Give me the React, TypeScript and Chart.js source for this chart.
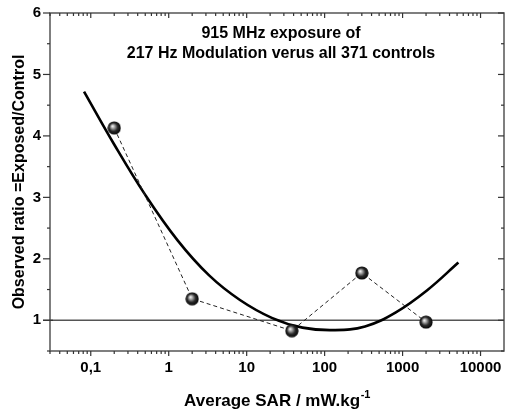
import { useEffect, useRef } from "react";
import { Chart, registerables } from "chart.js";
Chart.register(...registerables);

// Observed data points (SAR in mW/kg, ratio exposed/control)
const observedSAR = [0.2, 2, 38, 300, 2000];
const observedRatio = [4.13, 1.35, 0.83, 1.77, 0.97];

// Fitted curve
const fitSAR = [0.082, 0.2, 0.5, 1.3, 3.3, 8.2, 21, 52, 130, 330, 820, 2070, 5200];
const fitRatio = [4.72, 3.86, 3.04, 2.3, 1.73, 1.33, 1.04, 0.88, 0.84, 0.9, 1.13, 1.49, 1.94];

const referenceRatio = 1;

const xTickValues = [0.1, 1, 10, 100, 1000, 10000];
const xTickLabels = ["0,1", "1", "10", "100", "1000", "10000"];
const yTickValues = [1, 2, 3, 4, 5, 6];
const yTickLabels = ["1", "2", "3", "4", "5", "6"];
const yMinorValues = [0.5, 1.5, 2.5, 3.5, 4.5, 5.5];

const titleLines = ["915 MHz exposure of", "217 Hz Modulation verus all 371 controls"];
const xTitleMain = "Average SAR / mW.kg";
const xTitleSup = "-1";
const yTitle = "Observed ratio =Exposed/Control";

const X_MIN = 0.03;
const X_MAX = 20000;
const FONT = "'Liberation Sans', Arial, sans-serif";

function makeSphere(): HTMLCanvasElement {
  const c = document.createElement("canvas");
  const s = 14;
  c.width = s;
  c.height = s;
  const g = c.getContext("2d")!;
  const grad = g.createRadialGradient(5.2, 5.2, 0.3, 7, 7, 7);
  grad.addColorStop(0, "#f4f4f4");
  grad.addColorStop(0.25, "#a0a0a0");
  grad.addColorStop(0.58, "#2a2a2a");
  grad.addColorStop(1, "#000000");
  g.fillStyle = grad;
  g.beginPath();
  g.arc(7, 7, 6.6, 0, Math.PI * 2);
  g.fill();
  return c;
}

function xMinorValues(): number[] {
  const out: number[] = [];
  for (let d = 0.01; d < X_MAX; d *= 10) {
    for (let m = 2; m <= 9; m++) {
      const v = +(d * m).toPrecision(3);
      if (v >= X_MIN && v <= X_MAX * 0.999) out.push(v);
    }
  }
  return out;
}

const decorPlugin = {
  id: "decor",
  beforeDatasetsDraw(chart: any) {
    const { ctx, chartArea: a, scales } = chart;
    const yy = scales.y.getPixelForValue(referenceRatio);
    ctx.save();
    ctx.strokeStyle = "#555555";
    ctx.lineWidth = 1.5;
    ctx.beginPath();
    ctx.moveTo(a.left, yy);
    ctx.lineTo(a.right, yy);
    ctx.stroke();
    ctx.restore();
  },
  afterDraw(chart: any) {
    const { ctx, chartArea: a, scales } = chart;
    const xs = scales.x;
    const ys = scales.y;
    ctx.save();
    ctx.strokeStyle = "#555555";
    ctx.lineWidth = 1.5;
    ctx.strokeRect(a.left, a.top, a.right - a.left, a.bottom - a.top);

    ctx.lineWidth = 1.2;
    ctx.strokeStyle = "#333333";
    const seg = (x1: number, y1: number, x2: number, y2: number) => {
      ctx.beginPath();
      ctx.moveTo(x1, y1);
      ctx.lineTo(x2, y2);
      ctx.stroke();
    };
    // x ticks: bottom outward, top inward
    xTickValues.forEach((v) => {
      const px = xs.getPixelForValue(v);
      seg(px, a.bottom, px, a.bottom + 5);
      seg(px, a.top, px, a.top + 5);
    });
    xMinorValues().forEach((v) => {
      const px = xs.getPixelForValue(v);
      seg(px, a.bottom, px, a.bottom + 3);
      seg(px, a.top, px, a.top + 3);
    });
    // y ticks: left outward, right inward
    yTickValues.forEach((v) => {
      const py = ys.getPixelForValue(v);
      seg(a.left - 7, py, a.left, py);
      seg(a.right - 6, py, a.right, py);
    });
    const y1 = ys.getPixelForValue(referenceRatio);
    seg(a.left - 7, y1, a.left + 3, y1);
    yMinorValues.forEach((v) => {
      const py = ys.getPixelForValue(v);
      seg(a.left - 3, py, a.left, py);
      seg(a.right - 3, py, a.right, py);
    });

    // chart title inside plot
    ctx.fillStyle = "#000";
    ctx.font = `bold 16px ${FONT}`;
    ctx.textAlign = "center";
    ctx.textBaseline = "alphabetic";
    const cx = (a.left + a.right) / 2 + 4;
    ctx.fillText(titleLines[0], cx, a.top + 25);
    ctx.fillText(titleLines[1], cx, a.top + 45);

    // x axis title with superscript
    ctx.font = `bold 17px ${FONT}`;
    const wMain = ctx.measureText(xTitleMain).width;
    ctx.font = `bold 11px ${FONT}`;
    const wSup = ctx.measureText(xTitleSup).width;
    const startX = (a.left + a.right) / 2 - (wMain + wSup) / 2;
    ctx.textAlign = "left";
    ctx.font = `bold 17px ${FONT}`;
    ctx.fillText(xTitleMain, startX, 406);
    ctx.font = `bold 11px ${FONT}`;
    ctx.fillText(xTitleSup, startX + wMain + 0.5, 398);

    // y axis title
    ctx.font = `bold 16px ${FONT}`;
    ctx.textAlign = "center";
    ctx.translate(24, (a.top + a.bottom) / 2);
    ctx.rotate(-Math.PI / 2);
    ctx.fillText(yTitle, 0, 0);
    ctx.restore();
  },
};

export default function App() {
  const ref = useRef<HTMLCanvasElement | null>(null);
  useEffect(() => {
    if (!ref.current) return;
    const sphere = makeSphere();
    const chart = new Chart(ref.current, {
      type: "line",
      data: {
        datasets: [
          {
            label: "Observed",
            data: observedSAR.map((x, i) => ({ x, y: observedRatio[i] })),
            borderColor: "#222222",
            borderWidth: 1,
            borderDash: [4, 3],
            pointStyle: sphere as any,
            pointRadius: 7,
            fill: false,
            tension: 0,
          },
          {
            label: "Fit",
            data: fitSAR.map((x, i) => ({ x, y: fitRatio[i] })),
            borderColor: "#000000",
            borderWidth: 2.6,
            pointRadius: 0,
            fill: false,
            tension: 0.4,
          },
        ],
      },
      options: {
        animation: false,
        responsive: false,
        devicePixelRatio: 1,
        layout: { autoPadding: false, padding: { top: 13, right: 1, left: 0, bottom: 0 } },
        plugins: { legend: { display: false }, tooltip: { enabled: false }, title: { display: false } },
        scales: {
          x: {
            type: "logarithmic",
            min: X_MIN,
            max: X_MAX,
            grid: { display: false, drawTicks: false },
            border: { display: false },
            afterBuildTicks: (s: any) => {
              s.ticks = xTickValues.map((v) => ({ value: v }));
            },
            afterFit: (s: any) => {
              s.height = 61;
              s.paddingLeft = 0;
              s.paddingRight = 0;
            },
            ticks: {
              autoSkip: false,
              maxRotation: 0,
              padding: 8,
              color: "#000",
              font: { family: FONT, size: 15, weight: "bold" },
              callback: (_v: any, i: number) => xTickLabels[i],
            },
          },
          y: {
            type: "linear",
            min: 0.5,
            max: 6,
            grid: { display: false, drawTicks: false },
            border: { display: false },
            afterBuildTicks: (s: any) => {
              s.ticks = yTickValues.map((v) => ({ value: v }));
            },
            afterFit: (s: any) => {
              s.width = 50;
              s.paddingTop = 0;
              s.paddingBottom = 0;
            },
            ticks: {
              autoSkip: false,
              padding: 9,
              color: "#000",
              font: { family: FONT, size: 15, weight: "bold" },
              callback: (_v: any, i: number) => yTickLabels[i],
            },
          },
        },
      },
      plugins: [decorPlugin],
    } as any);
    return () => chart.destroy();
  }, []);
  return (
    <div style={{ position: "fixed", left: 0, top: 0, width: 505, height: 412, background: "#fff" }}>
      <canvas ref={ref} width={505} height={412} style={{ display: "block" }} />
    </div>
  );
}
